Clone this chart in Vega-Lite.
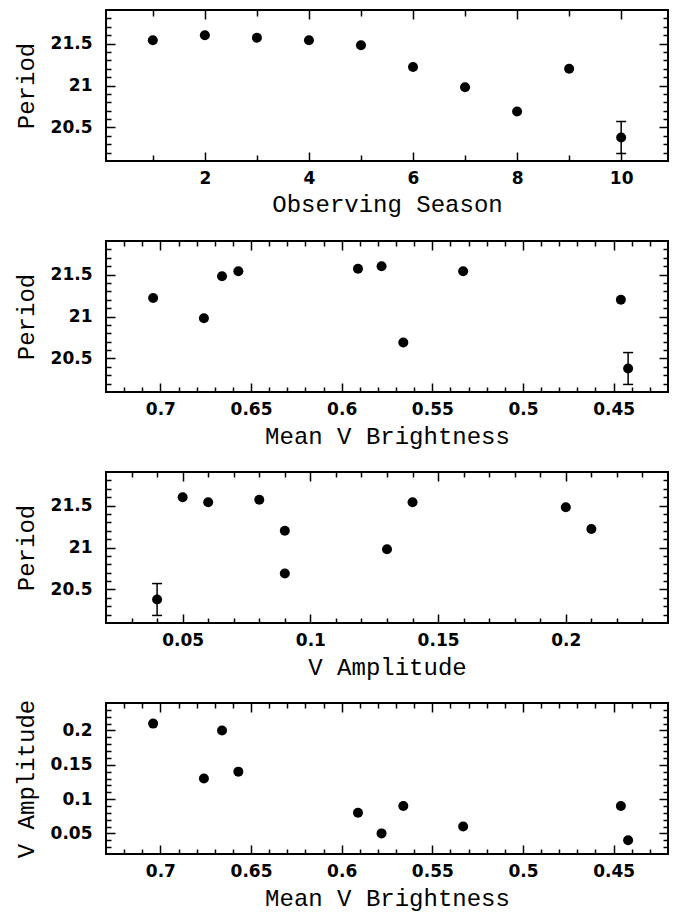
{
  "$schema": "https://vega.github.io/schema/vega-lite/v6.json",
  "background": "white",
  "padding": {"left": 13, "top": 8, "right": 5, "bottom": 3},
  "data": {"values": [
    {"season": 1, "period": 21.54, "meanV": 0.533, "amp": 0.06},
    {"season": 2, "period": 21.60, "meanV": 0.578, "amp": 0.05},
    {"season": 3, "period": 21.57, "meanV": 0.591, "amp": 0.08},
    {"season": 4, "period": 21.54, "meanV": 0.657, "amp": 0.14},
    {"season": 5, "period": 21.48, "meanV": 0.666, "amp": 0.20},
    {"season": 6, "period": 21.22, "meanV": 0.704, "amp": 0.21},
    {"season": 7, "period": 20.98, "meanV": 0.676, "amp": 0.13},
    {"season": 8, "period": 20.69, "meanV": 0.566, "amp": 0.09},
    {"season": 9, "period": 21.20, "meanV": 0.446, "amp": 0.09},
    {"season": 10, "period": 20.38, "lo": 20.19, "hi": 20.57, "meanV": 0.442, "amp": 0.04}
  ]},
  "spacing": 80,
  "bounds": "flush",
  "vconcat": [
    {
      "width": 562, "height": 151,
      "resolve": {"axis": {"x": "independent", "y": "independent"}},
      "layer": [
        {
          "mark": {"type": "circle", "size": 100, "color": "black", "opacity": 1},
          "encoding": {
            "x": {"field": "season", "type": "quantitative", "scale": {"domain": [0.1, 10.9], "nice": false, "zero": false},
              "axis": {"orient": "bottom", "title": "Observing Season", "values": [1,2,3,4,5,6,7,8,9,10],
                "labelExpr": "datum.value % 2 == 0 ? '' + datum.value : ''",
                "tickSize": {"signal": "(datum.value % 2 == 0 ? -9 : -6)"}}},
            "y": {"field": "period", "type": "quantitative", "scale": {"domain": [20.1, 21.9], "nice": false, "zero": false},
              "axis": {"orient": "left", "title": "Period", "values": [20.2,20.3,20.4,20.5,20.6,20.7,20.8,20.9,21,21.1,21.2,21.3,21.4,21.5,21.6,21.7,21.8],
                "labelExpr": "abs(datum.value*2 - round(datum.value*2)) < 0.000001 ? '' + datum.value : ''",
                "tickSize": {"signal": "(abs(datum.value*2 - round(datum.value*2)) < 0.000001 ? -9 : -5)"}}}
          }
        },
        {
          "mark": {"type": "circle", "size": 100, "opacity": 0},
          "encoding": {
            "x": {"field": "season", "type": "quantitative",
              "axis": {"orient": "top", "title": null, "labels": false, "values": [1,2,3,4,5,6,7,8,9,10],
                "tickSize": {"signal": "(datum.value % 2 == 0 ? -9 : -6)"}}},
            "y": {"field": "period", "type": "quantitative",
              "axis": {"orient": "right", "title": null, "labels": false, "values": [20.2,20.3,20.4,20.5,20.6,20.7,20.8,20.9,21,21.1,21.2,21.3,21.4,21.5,21.6,21.7,21.8],
                "tickSize": {"signal": "(abs(datum.value*2 - round(datum.value*2)) < 0.000001 ? -9 : -5)"}}}
          }
        },
        {
          "transform": [{"filter": "isValid(datum.lo)"}],
          "mark": {"type": "rule", "color": "black", "strokeWidth": 1.5},
          "encoding": {
            "x": {"field": "season", "type": "quantitative", "axis": null},
            "y": {"field": "lo", "type": "quantitative", "axis": null},
            "y2": {"field": "hi"}
          }
        },
        {
          "transform": [{"filter": "isValid(datum.lo)"}],
          "mark": {"type": "tick", "orient": "horizontal", "size": 10, "thickness": 1.5, "color": "black", "opacity": 1},
          "encoding": {
            "x": {"field": "season", "type": "quantitative", "axis": null},
            "y": {"field": "lo", "type": "quantitative", "axis": null}
          }
        },
        {
          "transform": [{"filter": "isValid(datum.hi)"}],
          "mark": {"type": "tick", "orient": "horizontal", "size": 10, "thickness": 1.5, "color": "black", "opacity": 1},
          "encoding": {
            "x": {"field": "season", "type": "quantitative", "axis": null},
            "y": {"field": "hi", "type": "quantitative", "axis": null}
          }
        }
      ]
    },
    {
      "width": 562, "height": 151,
      "resolve": {"axis": {"x": "independent", "y": "independent"}},
      "layer": [
        {
          "mark": {"type": "circle", "size": 100, "color": "black", "opacity": 1},
          "encoding": {
            "x": {"field": "meanV", "type": "quantitative", "scale": {"domain": [0.42, 0.73], "reverse": true, "nice": false, "zero": false},
              "axis": {"orient": "bottom", "title": "Mean V Brightness", "values": [0.43,0.44,0.45,0.46,0.47,0.48,0.49,0.5,0.51,0.52,0.53,0.54,0.55,0.56,0.57,0.58,0.59,0.6,0.61,0.62,0.63,0.64,0.65,0.66,0.67,0.68,0.69,0.7,0.71,0.72],
                "labelExpr": "abs(datum.value*20 - round(datum.value*20)) < 0.000001 ? '' + datum.value : ''",
                "tickSize": {"signal": "(abs(datum.value*20 - round(datum.value*20)) < 0.000001 ? -9 : -5)"}}},
            "y": {"field": "period", "type": "quantitative", "scale": {"domain": [20.1, 21.9], "nice": false, "zero": false},
              "axis": {"orient": "left", "title": "Period", "values": [20.2,20.3,20.4,20.5,20.6,20.7,20.8,20.9,21,21.1,21.2,21.3,21.4,21.5,21.6,21.7,21.8],
                "labelExpr": "abs(datum.value*2 - round(datum.value*2)) < 0.000001 ? '' + datum.value : ''",
                "tickSize": {"signal": "(abs(datum.value*2 - round(datum.value*2)) < 0.000001 ? -9 : -5)"}}}
          }
        },
        {
          "mark": {"type": "circle", "size": 100, "opacity": 0},
          "encoding": {
            "x": {"field": "meanV", "type": "quantitative",
              "axis": {"orient": "top", "title": null, "labels": false, "values": [0.43,0.44,0.45,0.46,0.47,0.48,0.49,0.5,0.51,0.52,0.53,0.54,0.55,0.56,0.57,0.58,0.59,0.6,0.61,0.62,0.63,0.64,0.65,0.66,0.67,0.68,0.69,0.7,0.71,0.72],
                "tickSize": {"signal": "(abs(datum.value*20 - round(datum.value*20)) < 0.000001 ? -9 : -5)"}}},
            "y": {"field": "period", "type": "quantitative",
              "axis": {"orient": "right", "title": null, "labels": false, "values": [20.2,20.3,20.4,20.5,20.6,20.7,20.8,20.9,21,21.1,21.2,21.3,21.4,21.5,21.6,21.7,21.8],
                "tickSize": {"signal": "(abs(datum.value*2 - round(datum.value*2)) < 0.000001 ? -9 : -5)"}}}
          }
        },
        {
          "transform": [{"filter": "isValid(datum.lo)"}],
          "mark": {"type": "rule", "color": "black", "strokeWidth": 1.5},
          "encoding": {
            "x": {"field": "meanV", "type": "quantitative", "axis": null},
            "y": {"field": "lo", "type": "quantitative", "axis": null},
            "y2": {"field": "hi"}
          }
        },
        {
          "transform": [{"filter": "isValid(datum.lo)"}],
          "mark": {"type": "tick", "orient": "horizontal", "size": 10, "thickness": 1.5, "color": "black", "opacity": 1},
          "encoding": {
            "x": {"field": "meanV", "type": "quantitative", "axis": null},
            "y": {"field": "lo", "type": "quantitative", "axis": null}
          }
        },
        {
          "transform": [{"filter": "isValid(datum.hi)"}],
          "mark": {"type": "tick", "orient": "horizontal", "size": 10, "thickness": 1.5, "color": "black", "opacity": 1},
          "encoding": {
            "x": {"field": "meanV", "type": "quantitative", "axis": null},
            "y": {"field": "hi", "type": "quantitative", "axis": null}
          }
        }
      ]
    },
    {
      "width": 562, "height": 151,
      "resolve": {"axis": {"x": "independent", "y": "independent"}},
      "layer": [
        {
          "mark": {"type": "circle", "size": 100, "color": "black", "opacity": 1},
          "encoding": {
            "x": {"field": "amp", "type": "quantitative", "scale": {"domain": [0.02, 0.24], "nice": false, "zero": false},
              "axis": {"orient": "bottom", "title": "V Amplitude", "values": [0.03,0.04,0.05,0.06,0.07,0.08,0.09,0.1,0.11,0.12,0.13,0.14,0.15,0.16,0.17,0.18,0.19,0.2,0.21,0.22,0.23],
                "labelExpr": "abs(datum.value*20 - round(datum.value*20)) < 0.000001 ? '' + datum.value : ''",
                "tickSize": {"signal": "(abs(datum.value*20 - round(datum.value*20)) < 0.000001 ? -9 : -5)"}}},
            "y": {"field": "period", "type": "quantitative", "scale": {"domain": [20.1, 21.9], "nice": false, "zero": false},
              "axis": {"orient": "left", "title": "Period", "values": [20.2,20.3,20.4,20.5,20.6,20.7,20.8,20.9,21,21.1,21.2,21.3,21.4,21.5,21.6,21.7,21.8],
                "labelExpr": "abs(datum.value*2 - round(datum.value*2)) < 0.000001 ? '' + datum.value : ''",
                "tickSize": {"signal": "(abs(datum.value*2 - round(datum.value*2)) < 0.000001 ? -9 : -5)"}}}
          }
        },
        {
          "mark": {"type": "circle", "size": 100, "opacity": 0},
          "encoding": {
            "x": {"field": "amp", "type": "quantitative",
              "axis": {"orient": "top", "title": null, "labels": false, "values": [0.03,0.04,0.05,0.06,0.07,0.08,0.09,0.1,0.11,0.12,0.13,0.14,0.15,0.16,0.17,0.18,0.19,0.2,0.21,0.22,0.23],
                "tickSize": {"signal": "(abs(datum.value*20 - round(datum.value*20)) < 0.000001 ? -9 : -5)"}}},
            "y": {"field": "period", "type": "quantitative",
              "axis": {"orient": "right", "title": null, "labels": false, "values": [20.2,20.3,20.4,20.5,20.6,20.7,20.8,20.9,21,21.1,21.2,21.3,21.4,21.5,21.6,21.7,21.8],
                "tickSize": {"signal": "(abs(datum.value*2 - round(datum.value*2)) < 0.000001 ? -9 : -5)"}}}
          }
        },
        {
          "transform": [{"filter": "isValid(datum.lo)"}],
          "mark": {"type": "rule", "color": "black", "strokeWidth": 1.5},
          "encoding": {
            "x": {"field": "amp", "type": "quantitative", "axis": null},
            "y": {"field": "lo", "type": "quantitative", "axis": null},
            "y2": {"field": "hi"}
          }
        },
        {
          "transform": [{"filter": "isValid(datum.lo)"}],
          "mark": {"type": "tick", "orient": "horizontal", "size": 10, "thickness": 1.5, "color": "black", "opacity": 1},
          "encoding": {
            "x": {"field": "amp", "type": "quantitative", "axis": null},
            "y": {"field": "lo", "type": "quantitative", "axis": null}
          }
        },
        {
          "transform": [{"filter": "isValid(datum.hi)"}],
          "mark": {"type": "tick", "orient": "horizontal", "size": 10, "thickness": 1.5, "color": "black", "opacity": 1},
          "encoding": {
            "x": {"field": "amp", "type": "quantitative", "axis": null},
            "y": {"field": "hi", "type": "quantitative", "axis": null}
          }
        }
      ]
    },
    {
      "width": 562, "height": 151,
      "resolve": {"axis": {"x": "independent", "y": "independent"}},
      "layer": [
        {
          "mark": {"type": "circle", "size": 100, "color": "black", "opacity": 1},
          "encoding": {
            "x": {"field": "meanV", "type": "quantitative", "scale": {"domain": [0.42, 0.73], "reverse": true, "nice": false, "zero": false},
              "axis": {"orient": "bottom", "title": "Mean V Brightness", "values": [0.43,0.44,0.45,0.46,0.47,0.48,0.49,0.5,0.51,0.52,0.53,0.54,0.55,0.56,0.57,0.58,0.59,0.6,0.61,0.62,0.63,0.64,0.65,0.66,0.67,0.68,0.69,0.7,0.71,0.72],
                "labelExpr": "abs(datum.value*20 - round(datum.value*20)) < 0.000001 ? '' + datum.value : ''",
                "tickSize": {"signal": "(abs(datum.value*20 - round(datum.value*20)) < 0.000001 ? -9 : -5)"}}},
            "y": {"field": "amp", "type": "quantitative", "scale": {"domain": [0.02, 0.24], "nice": false, "zero": false},
              "axis": {"orient": "left", "title": "V Amplitude", "values": [0.03,0.04,0.05,0.06,0.07,0.08,0.09,0.1,0.11,0.12,0.13,0.14,0.15,0.16,0.17,0.18,0.19,0.2,0.21,0.22,0.23],
                "labelExpr": "abs(datum.value*20 - round(datum.value*20)) < 0.000001 ? '' + datum.value : ''",
                "tickSize": {"signal": "(abs(datum.value*20 - round(datum.value*20)) < 0.000001 ? -9 : -5)"}}}
          }
        },
        {
          "mark": {"type": "circle", "size": 100, "opacity": 0},
          "encoding": {
            "x": {"field": "meanV", "type": "quantitative",
              "axis": {"orient": "top", "title": null, "labels": false, "values": [0.43,0.44,0.45,0.46,0.47,0.48,0.49,0.5,0.51,0.52,0.53,0.54,0.55,0.56,0.57,0.58,0.59,0.6,0.61,0.62,0.63,0.64,0.65,0.66,0.67,0.68,0.69,0.7,0.71,0.72],
                "tickSize": {"signal": "(abs(datum.value*20 - round(datum.value*20)) < 0.000001 ? -9 : -5)"}}},
            "y": {"field": "amp", "type": "quantitative",
              "axis": {"orient": "right", "title": null, "labels": false, "values": [0.03,0.04,0.05,0.06,0.07,0.08,0.09,0.1,0.11,0.12,0.13,0.14,0.15,0.16,0.17,0.18,0.19,0.2,0.21,0.22,0.23],
                "tickSize": {"signal": "(abs(datum.value*20 - round(datum.value*20)) < 0.000001 ? -9 : -5)"}}}
          }
        }
      ]
    }
  ],
  "config": {
    "view": {"stroke": "black", "strokeWidth": 2},
    "axis": {
      "grid": false, "domain": false,
      "tickColor": "black", "tickWidth": 1.5,
      "labelFont": "DejaVu Sans", "labelFontWeight": "bold", "labelFontSize": 17, "labelColor": "black",
      "labelFlush": false, "labelOverlap": false,
      "titleFont": "Liberation Mono", "titleFontSize": 24, "titleFontWeight": "normal", "titleColor": "black"
    },
    "axisBottom": {"labelPadding": 18, "titlePadding": 3},
    "axisLeft": {"labelPadding": 23, "titleX": -73, "titleY": 75.5, "titleAngle": 270, "titleAlign": "center", "titleBaseline": "alphabetic"}
  }
}
